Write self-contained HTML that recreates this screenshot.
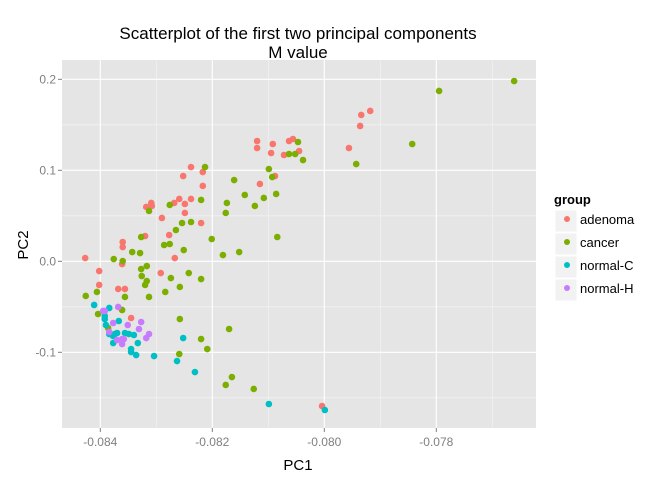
<!DOCTYPE html>
<html><head><meta charset="utf-8"><style>
body{margin:0;background:#fff;}
svg{display:block;font-family:"Liberation Sans",sans-serif;}
</style></head><body>
<svg id="chart" width="672" height="480" viewBox="0 0 672 480" xmlns="http://www.w3.org/2000/svg">
<rect x="0" y="0" width="672" height="480" fill="#fff"/>
<text x="298" y="39" text-anchor="middle" font-size="17" fill="#000">Scatterplot of the first two principal components</text>
<text x="298" y="58" text-anchor="middle" font-size="17" fill="#000">M value</text>
<rect x="62" y="60" width="474" height="368" fill="#e5e5e5"/>
<g id="grid"></g>
<g id="xticks"></g>
<g id="yticks"></g>
<g id="points"></g>
<text x="298" y="470" text-anchor="middle" font-size="15" fill="#000">PC1</text>
<text transform="translate(28,245) rotate(-90)" text-anchor="middle" font-size="15" fill="#000">PC2</text>
<g>
<text x="554" y="204" font-size="13" font-weight="bold" fill="#000">group</text>
<g id="legend"></g>
</g>
</svg>
<script>
const groups = ["adenoma","cancer","normal-C","normal-H"];
const colors = ["#F8766D","#7CAE00","#00BFC4","#C77CFF"];
const xTicks = [-0.084,-0.082,-0.080,-0.078];
const xTickLabels = ["-0.084","-0.082","-0.080","-0.078"];
const yTicks = [-0.1,0.0,0.1,0.2];
const yTickLabels = ["-0.1","0.0","0.1","0.2"];
const adenomaPC1 = [-0.08238,-0.08217,-0.08252,-0.08217,-0.08309,-0.08318,-0.08308,-0.08259,-0.08268,-0.08249,-0.08238,-0.08249,-0.08290,-0.08220,-0.08277,-0.08320,-0.08360,-0.08360,-0.08427,-0.08267,-0.08361,-0.08402,-0.08292,-0.08402,-0.08368,-0.08356,-0.08345,-0.08004,-0.07918,-0.07934,-0.07936,-0.07956,-0.08120,-0.08120,-0.08092,-0.08063,-0.08056,-0.08095,-0.08072,-0.08045,-0.08088,-0.08115];
const adenomaPC2 = [0.1036,0.0981,0.0937,0.0828,0.0641,0.0597,0.0608,0.0685,0.0641,0.0630,0.0685,0.0531,0.0476,0.0421,0.0289,0.0278,0.0212,0.0157,0.0036,0.0036,-0.0030,-0.0107,-0.0129,-0.0260,-0.0304,-0.0304,-0.0623,-0.1590,0.1652,0.1608,0.1487,0.1245,0.1322,0.1245,0.1289,0.1322,0.1344,0.1190,0.1168,0.1212,0.0937,0.0850];
const cancerPC1 = [-0.08213,-0.08174,-0.08176,-0.08220,-0.08276,-0.08313,-0.08238,-0.08254,-0.08265,-0.08327,-0.08201,-0.08286,-0.08276,-0.08251,-0.08343,-0.08329,-0.08181,-0.08376,-0.08360,-0.08327,-0.08317,-0.08326,-0.08317,-0.08320,-0.08274,-0.08242,-0.08220,-0.08258,-0.08426,-0.08406,-0.08356,-0.08313,-0.08284,-0.08404,-0.08361,-0.08386,-0.08258,-0.08170,-0.08220,-0.08209,-0.08259,-0.08176,-0.08165,-0.08126,-0.07661,-0.07795,-0.07843,-0.07943,-0.08047,-0.08063,-0.08052,-0.08038,-0.08099,-0.08093,-0.08161,-0.08142,-0.08108,-0.08124,-0.08086,-0.08084,-0.08152];
const cancerPC2 = [0.1036,0.0641,0.0531,0.0674,0.0619,0.0553,0.0432,0.0421,0.0344,0.0267,0.0245,0.0179,0.0190,0.0124,0.0102,0.0091,0.0069,0.0025,0.0003,-0.0085,-0.0052,-0.0162,-0.0217,-0.0260,-0.0184,-0.0129,-0.0195,-0.0282,-0.0381,-0.0337,-0.0392,-0.0392,-0.0337,-0.0579,-0.0535,-0.0733,-0.0634,-0.0744,-0.0854,-0.0964,-0.1019,-0.1359,-0.1272,-0.1403,0.1981,0.1872,0.1289,0.1069,0.1311,0.1179,0.1179,0.1113,0.1014,0.0926,0.0893,0.0729,0.0696,0.0608,0.0740,0.0267,0.0102];
const normalCPC1 = [-0.08411,-0.08384,-0.08392,-0.08392,-0.08367,-0.08390,-0.08384,-0.08374,-0.08370,-0.08356,-0.08349,-0.08340,-0.08377,-0.08377,-0.08333,-0.08345,-0.08345,-0.08336,-0.08304,-0.08263,-0.08252,-0.08231,-0.08099,-0.07999];
const normalCPC2 = [-0.0480,-0.0513,-0.0601,-0.0634,-0.0656,-0.0700,-0.0799,-0.0799,-0.0788,-0.0788,-0.0799,-0.0810,-0.0821,-0.0898,-0.0898,-0.0964,-0.0997,-0.1030,-0.1041,-0.1096,-0.0843,-0.1217,-0.1568,-0.1634];
const normalHPC1 = [-0.08395,-0.08392,-0.08368,-0.08377,-0.08351,-0.08327,-0.08331,-0.08384,-0.08361,-0.08358,-0.08370,-0.08361,-0.08318,-0.08313];
const normalHPC2 = [-0.0546,-0.0546,-0.0502,-0.0678,-0.0700,-0.0667,-0.0744,-0.0777,-0.0854,-0.0854,-0.0865,-0.0909,-0.0843,-0.0799];

const NS="http://www.w3.org/2000/svg";
const PL=62,PR=536,PT=60,PB=428;
function xs(v){return 100.3+(v+0.084)/0.002*112;}
function ys(v){return 261.3-v*910;}
function mk(tag,attrs,parent){const e=document.createElementNS(NS,tag);for(const k in attrs)e.setAttribute(k,attrs[k]);parent.appendChild(e);return e;}

const grid=document.getElementById('grid');
// minor gridlines
for(let i=0;i<xTicks.length;i++){
  const v=xTicks[i]+0.001;const px=xs(v);
  if(px>PL&&px<PR){const l=mk('line',{x1:px,x2:px,y1:PT,y2:PB,stroke:'#f2f2f2','stroke-width':0.8},grid);
  
  }
}
for(let i=0;i<yTicks.length;i++){
  const v=yTicks[i]+0.05;const py=ys(v);
  if(py>PT&&py<PB){const l=mk('line',{x1:PL,x2:PR,y1:py,y2:py,stroke:'#f2f2f2','stroke-width':0.8},grid);
  
  }
}
{const v=yTicks[0]-0.05;const py=ys(v);if(py>PT&&py<PB){const l=mk('line',{x1:PL,x2:PR,y1:py,y2:py,stroke:'#f2f2f2','stroke-width':0.8},grid);

}}
const xt=document.getElementById('xticks');
xTicks.forEach((v,i)=>{const px=xs(v);
  const g=mk('line',{x1:px,x2:px,y1:PT,y2:PB,stroke:'#fff','stroke-width':1.1},grid);
  
  
  const t=mk('line',{x1:px,x2:px,y1:PB,y2:PB+4,stroke:'#7f7f7f','stroke-width':1},xt);
  
  
  const tx=mk('text',{x:px,y:PB+18,'text-anchor':'middle','font-size':12,fill:'#7f7f7f'},xt);
  tx.textContent=xTickLabels[i];
  
  
});
const yt=document.getElementById('yticks');
yTicks.forEach((v,i)=>{const py=ys(v);
  const g=mk('line',{x1:PL,x2:PR,y1:py,y2:py,stroke:'#fff','stroke-width':1.1},grid);
  
  
  const t=mk('line',{x1:PL-4,x2:PL,y1:py,y2:py,stroke:'#7f7f7f','stroke-width':1},yt);
  
  
  const tx=mk('text',{x:PL-6,y:py+4,'text-anchor':'end','font-size':12,fill:'#7f7f7f'},yt);
  tx.textContent=yTickLabels[i];
  
  
});
const pts=document.getElementById('points');
const series=[[adenomaPC1,adenomaPC2],[cancerPC1,cancerPC2],[normalCPC1,normalCPC2],[normalHPC1,normalHPC2]];
series.forEach((s,gi)=>{
  for(let i=0;i<s[0].length;i++){
    const c=mk('circle',{cx:xs(s[0][i]),cy:ys(s[1][i]),r:3.3,fill:colors[gi]},pts);
    
    
  }
});
const lg=document.getElementById('legend');
groups.forEach((g,i)=>{
  const cy=221+i*23;
  const k=mk('rect',{x:555,y:cy-11,width:22,height:22,fill:'#f2f2f2',stroke:'#fff','stroke-width':1},lg);
  
  
  const c=mk('circle',{cx:567,cy:cy-2,r:3,fill:colors[i]},lg);
  
  
  const t=mk('text',{x:580,y:cy+3,'font-size':13,fill:'#000'},lg);
  t.textContent=g;
  
  
});
</script>
</body></html>
